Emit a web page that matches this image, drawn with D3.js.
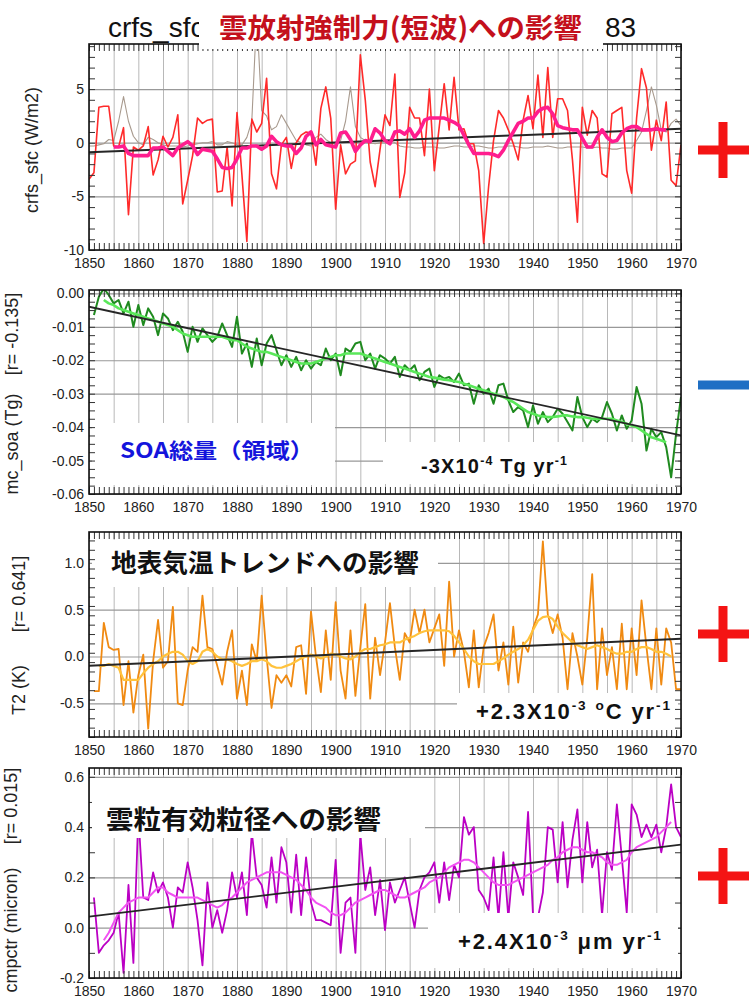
<!DOCTYPE html>
<html>
<head>
<meta charset="utf-8">
<script src="https://cdn.jsdelivr.net/npm/d3@7"></script>
<style>
  body { margin: 0; background: #fff; }
  svg { display: block; }
  text { font-family: "Liberation Sans", Arial, sans-serif; }
  .jp { font-family: "Noto Sans CJK JP", "Noto Sans", sans-serif; font-weight: bold; }
</style>
</head>
<body>
<svg id="chart" width="750" height="999"></svg>
<script>
// --- data -------------------------------------------------------------
const firstYear = 1850;
const lastYear = 1970;
const decadeYears = [1850, 1860, 1870, 1880, 1890, 1900, 1910, 1920, 1930, 1940, 1950, 1960, 1970];
const trendYears = [1850, 1970];

// panel 1: cloud radiative forcing (shortwave), W/m2
const crfsTicks = [-10, -5, 0, 5];
const crfsRed = [
  -3.4, -2.8, 3.3, 3.4, 3.4, -0.3, -0.4, 1.4, -6.7, -0.4,
  -0.7, -0.3, 1.5, -3.0, -1.6, 0.6, -0.4, 0.5, 2.6, -5.7,
  -3.5, -1.2, 2.3, 1.8, 2.1, 2.2, -4.6, -4.5, -0.4, -5.9,
  2.8, -3.0, -9.2, 2.2, 1.0, 1.8, 6.0, -2.9, -4.3, -0.2,
  0.5, -2.4, 0.0, 0.7, 1.0, 0.9, -2.1, 3.2, 5.2, 2.3,
  -6.2, -0.2, -2.9, -2.0, -1.7, 8.2, 4.0, -1.8, -4.1, -0.6,
  2.6, 1.6, 6.4, -5.1, -2.8, 3.3, 2.3, 2.3, -1.2, 5.0,
  -2.6, 1.5, 5.5, 1.2, 6.1, 1.2, 1.3, -0.1, -0.1, -2.6,
  -9.4, -4.1, 0.2, 3.0, 2.3, 1.2, -0.1, -1.6, 2.1, 4.4,
  1.3, 6.3, 0.5, 7.0, 0.5, 4.1, 4.1, 3.0, -1.6, -7.4,
  3.3, 0.7, 3.0, 2.3, -2.9, -3.2, 2.7, 3.0, 3.3, -2.6,
  -4.7, 2.3, 6.9, 5.1, -0.7, 2.1, 0.2, 3.8, -3.5, -4.0,
  -0.2
];
const crfsGray = [
  -0.3, -0.3, -0.2, -0.1, 0.3, 0.2, 2.0, 4.3, 2.0, 0.6,
  0.0, -0.2, 0.5, 0.3, 0.0, -0.2, -0.3, -0.3, -0.3, -0.4,
  -0.3, -0.2, -0.1, 0.0, 0.0, 0.1, -0.2, -0.2, 0.1, 0.0,
  -0.2, -0.2, 0.5, 2.0, 12.0, 3.0, 2.5, 1.2, 1.5, 2.6,
  1.8, 1.0, 0.2, 0.0, -0.2, -0.3, 0.5, 0.8, 0.3, 0.0,
  -0.2, 0.2, 2.0, 5.2, 1.5, 0.5, 0.2, 0.0, -0.1, 0.0,
  0.1, 0.2, 0.0, -0.3, -0.4, -0.4, -0.5, -0.5, -0.4, -0.4,
  -0.4, -0.5, -0.5, -0.4, -0.3, -0.3, -0.4, -0.4, -0.3, -0.3,
  -0.4, -0.5, -0.5, -0.4, -0.4, -0.3, -0.3, -0.4, -0.5, -0.5,
  -0.4, -0.4, -0.4, -0.3, -0.4, -0.5, -0.5, -0.4, -0.4, -0.4,
  -0.4, -0.5, -0.5, -0.4, -0.5, -0.5, -0.6, -0.6, -0.5, -0.5,
  -0.5, 0.2, 1.0, 3.0, 5.2, 3.5, 1.2, 1.0, 1.8, 2.2,
  1.6
];
const crfsSmoothStart = 1855;
const crfsSmooth = [
  -0.4, -0.4, -0.3, -1.0, -1.2,
  -1.2, -1.2, -1.2, -0.5, -0.5, -0.4, -0.8, -1.2, -0.5, -0.2,
  0.1, -0.3, -1.1, -0.6, -0.7, -0.8, -1.5, -2.3, -2.4, -2.3,
  -1.5, -0.5, -0.5, -0.3, -0.3, -0.6, -0.3, 0.6, 0.1, -0.2,
  -0.3, -0.3, -1.0, -0.5, 0.6, 1.0, -0.2, 0.3, -0.2, -0.3,
  -0.4, 0.9, 1.0, 0.3, -0.8, -0.2, 0.2, 0.1, 1.3, 0.9,
  0.2, -0.1, 1.0, 1.1, 0.8, 1.3, 0.5, 1.1, 2.1, 2.3,
  2.3, 2.3, 2.3, 2.1, 1.9, 1.6, 0.7, -0.2, -1.0, -1.0,
  -1.0, -1.0, -1.1, -1.3, -0.7, 0.2, 1.0, 1.8, 2.0, 2.3,
  2.3, 2.9, 3.2, 3.3, 2.7, 1.6, 1.4, 1.3, 1.2, 1.2,
  0.4, -0.4, -0.4, 0.5, 1.2, 0.5, 0.1, 0.2, 0.9, 1.3,
  1.5, 1.5, 1.2, 1.2, 1.2, 1.3, 1.2, 1.2
];
const crfsTrend = [-0.9, 1.3];

// panel 2: SOA burden, Tg
const soaTicks = [0, -0.01, -0.02, -0.03, -0.04, -0.05, -0.06];
const soaStart = 1851;
const soaAnnual = [
  -0.0065, -0.0010, 0.0015, -0.0005, -0.0030, -0.0020, -0.0060, -0.0025, -0.0100,
  -0.0035, -0.0095, -0.0045, -0.0070, -0.0125, -0.0060, -0.0075, -0.0110, -0.0085, -0.0115,
  -0.0175, -0.0100, -0.0145, -0.0105, -0.0125, -0.0145, -0.0130, -0.0090, -0.0125, -0.0160,
  -0.0070, -0.0180, -0.0150, -0.0220, -0.0135, -0.0215, -0.0150, -0.0125, -0.0170, -0.0215,
  -0.0185, -0.0220, -0.0190, -0.0230, -0.0200, -0.0225, -0.0205, -0.0215, -0.0165, -0.0200,
  -0.0180, -0.0245, -0.0165, -0.0175, -0.0150, -0.0145, -0.0200, -0.0180, -0.0225, -0.0185,
  -0.0195, -0.0210, -0.0190, -0.0250, -0.0215, -0.0230, -0.0215, -0.0260, -0.0235, -0.0225,
  -0.0280, -0.0245, -0.0255, -0.0250, -0.0265, -0.0240, -0.0275, -0.0270, -0.0330, -0.0275,
  -0.0300, -0.0285, -0.0330, -0.0275, -0.0270, -0.0320, -0.0355, -0.0340, -0.0350, -0.0400,
  -0.0335, -0.0390, -0.0355, -0.0385, -0.0370, -0.0345, -0.0360, -0.0385, -0.0410, -0.0310,
  -0.0370, -0.0400, -0.0375, -0.0385, -0.0370, -0.0325, -0.0360, -0.0410, -0.0365, -0.0405,
  -0.0380, -0.0280, -0.0330, -0.0470, -0.0405, -0.0430, -0.0415, -0.0460, -0.0550, -0.0420,
  -0.0310
];
const soaSmoothStart = 1853;
const soaSmooth = [
  -0.0020, -0.0030, -0.0035, -0.0045, -0.0050, -0.0055, -0.0060,
  -0.0065, -0.0070, -0.0075, -0.0080, -0.0085, -0.0090, -0.0095, -0.0100, -0.0110, -0.0120,
  -0.0125, -0.0130, -0.0130, -0.0130, -0.0130, -0.0130, -0.0130, -0.0130, -0.0135, -0.0140,
  -0.0140, -0.0150, -0.0160, -0.0165, -0.0170, -0.0175, -0.0175, -0.0180, -0.0185, -0.0190,
  -0.0195, -0.0200, -0.0205, -0.0210, -0.0210, -0.0210, -0.0205, -0.0200, -0.0195, -0.0190,
  -0.0185, -0.0185, -0.0180, -0.0180, -0.0180, -0.0180, -0.0185, -0.0190, -0.0195, -0.0200,
  -0.0205, -0.0210, -0.0215, -0.0220, -0.0225, -0.0230, -0.0235, -0.0240, -0.0245, -0.0250,
  -0.0252, -0.0255, -0.0258, -0.0260, -0.0263, -0.0265, -0.0270, -0.0275, -0.0280, -0.0285,
  -0.0290, -0.0295, -0.0300, -0.0305, -0.0310, -0.0318, -0.0325, -0.0335, -0.0345, -0.0355,
  -0.0360, -0.0365, -0.0368, -0.0370, -0.0370, -0.0368, -0.0365, -0.0365, -0.0368, -0.0370,
  -0.0370, -0.0372, -0.0375, -0.0375, -0.0375, -0.0375, -0.0375, -0.0380, -0.0385, -0.0390,
  -0.0395, -0.0400, -0.0410, -0.0420, -0.0430, -0.0435, -0.0440, -0.0445
];
const soaTrend = [-0.0040, -0.0425];

// panel 3: surface air temperature, K
const t2Ticks = [-0.5, 0, 0.5, 1.0];
const t2Start = 1851;
const t2Annual = [
  -0.37, -0.37, 0.36, 0.10, 0.07, 0.08, -0.52, -0.05, -0.60,
  -0.20, 0.02, -0.77, -0.05, 0.39, -0.12, -0.05, 0.53, -0.50, -0.52,
  -0.15, 0.10, 0.05, 0.65, 0.10, 0.08, -0.10, -0.30, 0.05, 0.28,
  -0.45, -0.15, -0.52, 0.13, -0.05, 0.65, 0.00, -0.55, -0.20, -0.28,
  -0.20, -0.32, 0.10, 0.12, -0.40, 0.48, 0.00, -0.38, 0.28, -0.25,
  0.58, -0.15, -0.45, 0.28, -0.42, 0.10, 0.56, -0.45, 0.20, -0.20,
  0.15, 0.57, 0.10, -0.25, 0.25, 0.15, 0.50, 0.25, 0.50, 0.15,
  0.30, 0.45, -0.10, 0.80, 0.00, 0.28, 0.05, -0.33, 0.28, -0.33,
  0.10, 0.25, 0.45, -0.15, 0.15, -0.30, 0.32, -0.28, 0.15, 0.05,
  0.30, 0.45, 1.23, 0.45, 0.25, 0.45, 0.20, -0.35, 0.25, 0.00,
  -0.30, 0.20, 0.88, -0.35, 0.30, -0.20, 0.10, -0.35, 0.35, -0.35,
  0.30, -0.20, 0.60, 0.10, -0.35, 0.30, -0.30, 0.30, 0.15, -0.35,
  -0.35
];
const t2SmoothStart = 1852;
const t2Smooth = [
  -0.10, -0.10, -0.08, -0.10, -0.12, -0.25, -0.25, -0.25,
  -0.25, -0.18, -0.12, -0.08, -0.05, 0.00, 0.03, 0.05, 0.05, 0.02,
  -0.05, -0.08, -0.05, 0.05, 0.08, 0.05, 0.00, -0.03, -0.03, -0.05,
  -0.08, -0.10, -0.08, -0.05, -0.05, -0.03, -0.05, -0.10, -0.12, -0.12,
  -0.10, -0.08, -0.05, -0.02, 0.00, 0.02, 0.00, -0.02, 0.00, 0.03,
  0.02, 0.00, -0.02, -0.03, 0.00, 0.05, 0.08, 0.08, 0.10, 0.12,
  0.13, 0.15, 0.15, 0.15, 0.18, 0.20, 0.22, 0.25, 0.27, 0.28,
  0.28, 0.28, 0.28, 0.27, 0.22, 0.15, 0.08, 0.00, -0.05, -0.08,
  -0.08, -0.08, -0.08, -0.05, -0.02, 0.02, 0.05, 0.08, 0.12, 0.18,
  0.28, 0.38, 0.42, 0.43, 0.40, 0.32, 0.25, 0.20, 0.15, 0.12,
  0.10, 0.08, 0.10, 0.12, 0.10, 0.08, 0.05, 0.03, 0.03, 0.05,
  0.05, 0.08, 0.10, 0.10, 0.08, 0.05, 0.05, 0.03, 0.00
];
const t2Trend = [-0.10, 0.19];

// panel 4: cloud droplet effective radius, micron
const cmpTicks = [-0.2, 0, 0.2, 0.4, 0.6];
const cmpStart = 1851;
const cmpAnnual = [
  0.12, -0.10, -0.07, -0.05, -0.02, 0.06, -0.18, 0.17, -0.14,
  0.45, 0.12, 0.11, 0.22, 0.14, 0.18, 0.12, 0.00, 0.16, 0.14,
  0.26, 0.16, 0.03, -0.15, 0.18, 0.00, 0.07, -0.02, 0.07, 0.22,
  0.12, 0.22, 0.05, 0.38, 0.20, 0.17, 0.08, 0.28, 0.10, 0.32,
  0.26, 0.06, 0.29, 0.05, 0.28, 0.10, 0.03, 0.03, 0.02, 0.01,
  0.27, -0.10, 0.10, 0.12, -0.10, 0.37, 0.15, 0.24, 0.05, 0.19,
  -0.01, 0.18, 0.10, 0.15, 0.20, 0.10, 0.00, 0.15, 0.20, 0.22,
  0.26, 0.10, 0.26, 0.11, 0.25, 0.20, 0.44, 0.37, 0.40, 0.15,
  0.12, 0.07, 0.28, 0.04, 0.30, 0.04, 0.26, 0.20, 0.13, 0.46,
  0.05, 0.04, 0.14, 0.40, 0.39, 0.18, 0.42, 0.16, 0.35, 0.47,
  0.18, 0.42, 0.24, 0.31, 0.05, 0.30, 0.23, 0.49, 0.28, 0.06,
  0.49, 0.45, 0.36, 0.41, 0.36, 0.41, 0.30, 0.40, 0.57, 0.40,
  0.36
];
const cmpSmoothStart = 1853;
const cmpSmooth = [
  -0.05, -0.02, 0.02, 0.06, 0.08, 0.10, 0.11,
  0.12, 0.12, 0.12, 0.14, 0.16, 0.16, 0.14, 0.13, 0.12, 0.12,
  0.12, 0.12, 0.12, 0.11, 0.10, 0.09, 0.08, 0.09, 0.11, 0.12,
  0.14, 0.16, 0.18, 0.19, 0.20, 0.21, 0.22, 0.22, 0.22, 0.22,
  0.21, 0.20, 0.19, 0.17, 0.15, 0.12, 0.10, 0.09, 0.08, 0.06,
  0.05, 0.05, 0.06, 0.08, 0.10, 0.11, 0.12, 0.13, 0.14, 0.15,
  0.15, 0.14, 0.13, 0.12, 0.12, 0.13, 0.14, 0.15, 0.16, 0.18,
  0.19, 0.20, 0.22, 0.24, 0.25, 0.26, 0.27, 0.27, 0.26, 0.24,
  0.22, 0.20, 0.18, 0.17, 0.17, 0.17, 0.18, 0.19, 0.20, 0.21,
  0.22, 0.23, 0.24, 0.25, 0.27, 0.28, 0.30, 0.31, 0.32, 0.32,
  0.31, 0.30, 0.30, 0.29, 0.28, 0.26, 0.25, 0.25, 0.26, 0.27,
  0.30, 0.32, 0.33, 0.34, 0.35, 0.36, 0.38, 0.40, 0.42
];
const cmpTrend = [0.044, 0.33];

// --- helpers ------------------------------------------------------------
const pts = (start, vals) => vals.map((v, i) => ({ year: start + i, value: v }));
const trend = vals => vals.map((v, i) => ({ year: trendYears[i], value: v }));
const hyphen = f => v => f(v).replace('\u2212', '-');

const X0 = 89, X1 = 681;
const x = d3.scaleLinear().domain([firstYear, lastYear]).range([X0, X1]);
const svg = d3.select('#chart');
const gridYears = d3.range(firstYear, lastYear + 1, 5);
const allYears = d3.range(firstYear, lastYear + 1);

// bold text with superscript pieces, nudged to a given width
function richText(g, px, py, parts, size, fill, width) {
  const t = g.append('text').attr('x', px).attr('y', py)
    .attr('font-size', size).attr('font-weight', 'bold').attr('fill', fill);
  let up = false;
  parts.forEach(p => {
    const sup = Array.isArray(p);
    const s = t.append('tspan').text(sup ? p[0] : p);
    if (sup) {
      s.attr('font-size', size * 0.62);
      if (!up) { s.attr('dy', -size * 0.42); up = true; }
    } else if (up) { s.attr('dy', size * 0.42); up = false; }
  });
  const cur = t.node().getComputedTextLength();
  const n = t.text().length;
  if (width && n > 1) t.attr('letter-spacing', ((width - cur) / (n - 1)).toFixed(2));
  return t;
}

const panels = [
  {
    top: 44, bottom: 250, domain: [-10, 9.2], ticks: crfsTicks, minorStep: 1,
    fmt: hyphen(d3.format('d')), titleX: 33, titles: [['crfs_sfc (W/m2)', 150]],
    lines: [
      { data: pts(firstYear, crfsGray), color: '#a89a8e', width: 1.1 },
      { data: pts(firstYear, crfsRed), color: '#ff2a2a', width: 1.6 },
      { data: trend(crfsTrend), color: '#262626', width: 2 },
      { data: pts(crfsSmoothStart, crfsSmooth), color: '#ff1d8e', width: 3.6 }
    ],
    under: [], over: [[199, 0, 404, 49]], sign: '+', signY: 150
  },
  {
    top: 290, bottom: 494, domain: [-0.06, 0.001], ticks: soaTicks, minorStep: 0.0025,
    fmt: hyphen(d3.format('.2f')), titleX: 13, titles: [['mc_soa (Tg)', 444], ['[r= -0.135]', 334]],
    lines: [
      { data: pts(soaStart, soaAnnual), color: '#1f8a1f', width: 2 },
      { data: pts(soaSmoothStart, soaSmooth), color: '#5ae85a', width: 2.6 },
      { data: trend(soaTrend), color: '#262626', width: 1.8 }
    ],
    under: [[92, 423, 243, 62], [383, 442, 295, 42]], over: [], sign: '-', signY: 385
  },
  {
    top: 532, bottom: 737, domain: [-0.86, 1.33], ticks: t2Ticks, minorStep: 0.1,
    fmt: hyphen(d3.format('.1f')), titleX: 20, titles: [['T2 (K)', 690], ['[r= 0.641]', 594]],
    lines: [
      { data: pts(t2Start, t2Annual), color: '#f08a12', width: 1.8 },
      { data: pts(t2SmoothStart, t2Smooth), color: '#ffc23c', width: 2.2 },
      { data: trend(t2Trend), color: '#262626', width: 2 }
    ],
    under: [[92, 540, 346, 47], [457, 693, 221, 38]], over: [], sign: '+', signY: 634
  },
  {
    top: 768, bottom: 978, domain: [-0.2, 0.635], ticks: cmpTicks, minorStep: 0.1,
    fmt: hyphen(d3.format('.1f')), titleX: 12, titles: [['cmpctr (micron)', 930], ['[r= 0.015]', 806]],
    lines: [
      { data: pts(cmpStart, cmpAnnual), color: '#bb00c4', width: 1.8 },
      { data: pts(cmpSmoothStart, cmpSmooth), color: '#f252f2', width: 2 },
      { data: trend(cmpTrend), color: '#262626', width: 1.8 }
    ],
    under: [], over: [[92, 778, 333, 60], [428, 913, 250, 55]], sign: '+', signY: 876
  }
];

const defs = svg.append('defs');

panels.forEach((p, pi) => {
  const w = X1 - X0, h = p.bottom - p.top;
  const y = d3.scaleLinear().domain(p.domain).range([p.bottom, p.top]);
  const g = svg.append('g');

  // grid
  g.append('g').attr('transform', `translate(0,${p.bottom})`)
    .call(d3.axisBottom(x).tickValues(gridYears).tickSize(-h).tickFormat(''))
    .call(a => a.select('.domain').remove())
    .selectAll('line').attr('stroke', '#b8b8b8').attr('stroke-width', 1);
  g.append('g').attr('transform', `translate(${X0},0)`)
    .call(d3.axisLeft(y).tickValues(p.ticks).tickSize(-w).tickFormat(''))
    .call(a => a.select('.domain').remove())
    .selectAll('line').attr('stroke', '#999').attr('stroke-width', 1.2);

  p.under.forEach(r => g.append('rect').attr('x', r[0]).attr('y', r[1])
    .attr('width', r[2]).attr('height', r[3]).attr('fill', '#fff'));

  // series
  defs.append('clipPath').attr('id', 'clip' + pi).append('rect')
    .attr('x', X0).attr('y', p.top).attr('width', w).attr('height', h);
  const line = d3.line().x(d => x(d.year)).y(d => y(d.value));
  const lg = g.append('g').attr('clip-path', `url(#clip${pi})`);
  p.lines.forEach(s => lg.append('path').datum(s.data)
    .attr('fill', 'none').attr('stroke', s.color).attr('stroke-width', s.width)
    .attr('stroke-linejoin', 'round').attr('d', line));

  // minor ticks
  g.append('g').attr('transform', `translate(0,${p.bottom})`)
    .call(d3.axisBottom(x).tickValues(allYears).tickSize(-7).tickFormat(''))
    .call(a => a.select('.domain').remove())
    .selectAll('line').attr('stroke', '#333');
  g.append('g').attr('transform', `translate(0,${p.top})`)
    .call(d3.axisTop(x).tickValues(allYears).tickSize(-7).tickFormat(''))
    .call(a => a.select('.domain').remove())
    .selectAll('line').attr('stroke', '#333');
  const minor = d3.range(p.domain[0], p.domain[1] + 1e-9, p.minorStep);
  g.append('g').attr('transform', `translate(${X0},0)`)
    .call(d3.axisLeft(y).tickValues(minor).tickSize(-6).tickFormat(''))
    .call(a => a.select('.domain').remove())
    .selectAll('line').attr('stroke', '#333');
  g.append('g').attr('transform', `translate(${X1},0)`)
    .call(d3.axisRight(y).tickValues(minor).tickSize(-6).tickFormat(''))
    .call(a => a.select('.domain').remove())
    .selectAll('line').attr('stroke', '#333');

  // frame
  g.append('rect').attr('x', X0).attr('y', p.top).attr('width', w).attr('height', h)
    .attr('fill', 'none').attr('stroke', '#111').attr('stroke-width', 1.6);

  p.over.forEach(r => g.append('rect').attr('x', r[0]).attr('y', r[1])
    .attr('width', r[2]).attr('height', r[3]).attr('fill', '#fff'));

  // tick labels
  g.append('g').attr('transform', `translate(0,${p.bottom})`)
    .call(d3.axisBottom(x).tickValues(decadeYears).tickSize(0).tickPadding(8).tickFormat(d3.format('d')))
    .call(a => a.select('.domain').remove())
    .selectAll('text').attr('font-size', 14).attr('fill', '#222')
    .attr('font-family', '"Liberation Sans", Arial, sans-serif');
  g.append('g').attr('transform', `translate(${X0},0)`)
    .call(d3.axisLeft(y).tickValues(p.ticks).tickSize(0).tickPadding(5).tickFormat(p.fmt))
    .call(a => a.select('.domain').remove())
    .selectAll('text').attr('font-size', 14).attr('fill', '#222')
    .attr('font-family', '"Liberation Sans", Arial, sans-serif');

  // axis title pieces
  p.titles.forEach(([label, cy]) => g.append('text')
    .attr('transform', `translate(${p.titleX},${cy}) rotate(-90)`)
    .attr('text-anchor', 'middle').attr('dominant-baseline', 'middle')
    .attr('font-size', 18).attr('fill', '#222').text(label));

  // sign on the right
  const sc = p.sign === '+' ? '#f41414' : '#1f6fc4';
  g.append('rect').attr('x', 698).attr('y', p.signY - 4.5).attr('width', 51).attr('height', 9).attr('fill', sc);
  if (p.sign === '+') {
    g.append('rect').attr('x', 718.5).attr('y', p.signY - 28).attr('width', 9).attr('height', 56).attr('fill', sc);
  }
});

// --- annotations --------------------------------------------------------
const ann = svg.append('g');
// original plot title, mostly hidden behind the Japanese label box
ann.append('text').attr('x', 108).attr('y', 37).attr('font-size', 28).attr('fill', '#111').text('crfs_sfc');
ann.append('rect').attr('x', 199).attr('y', 0).attr('width', 404).attr('height', 44).attr('fill', '#fff');
ann.append('text').attr('x', 605).attr('y', 37).attr('font-size', 28).attr('fill', '#111').text('83');
ann.append('text').attr('class', 'jp').attr('x', 219).attr('y', 38).attr('font-size', 27)
  .attr('fill', '#c4101c').attr('textLength', 363).attr('lengthAdjust', 'spacingAndGlyphs')
  .text('雲放射強制力(短波)への影響');

ann.append('text').attr('class', 'jp').attr('x', 120).attr('y', 458).attr('font-size', 21)
  .attr('fill', '#1414dc').attr('textLength', 194).attr('lengthAdjust', 'spacingAndGlyphs')
  .text('SOA総量（領域）');
richText(ann, 421, 473, ['-3X10', ['-4'], ' Tg yr', ['-1']], 20, '#111', 146);

ann.append('text').attr('class', 'jp').attr('x', 111).attr('y', 572).attr('font-size', 25)
  .attr('fill', '#111').attr('textLength', 308).attr('lengthAdjust', 'spacingAndGlyphs')
  .text('地表気温トレンドへの影響');
richText(ann, 476, 719, ['+2.3X10', ['-3'], ' ', ['o'], 'C yr', ['-1']], 22, '#111', 194);

ann.append('text').attr('class', 'jp').attr('x', 106).attr('y', 829).attr('font-size', 26)
  .attr('fill', '#111').attr('textLength', 275).attr('lengthAdjust', 'spacingAndGlyphs')
  .text('雲粒有効粒径への影響');
richText(ann, 458, 949, ['+2.4X10', ['-3'], ' \u03bcm yr', ['-1']], 22, '#111', 203);
</script>
</body>
</html>
